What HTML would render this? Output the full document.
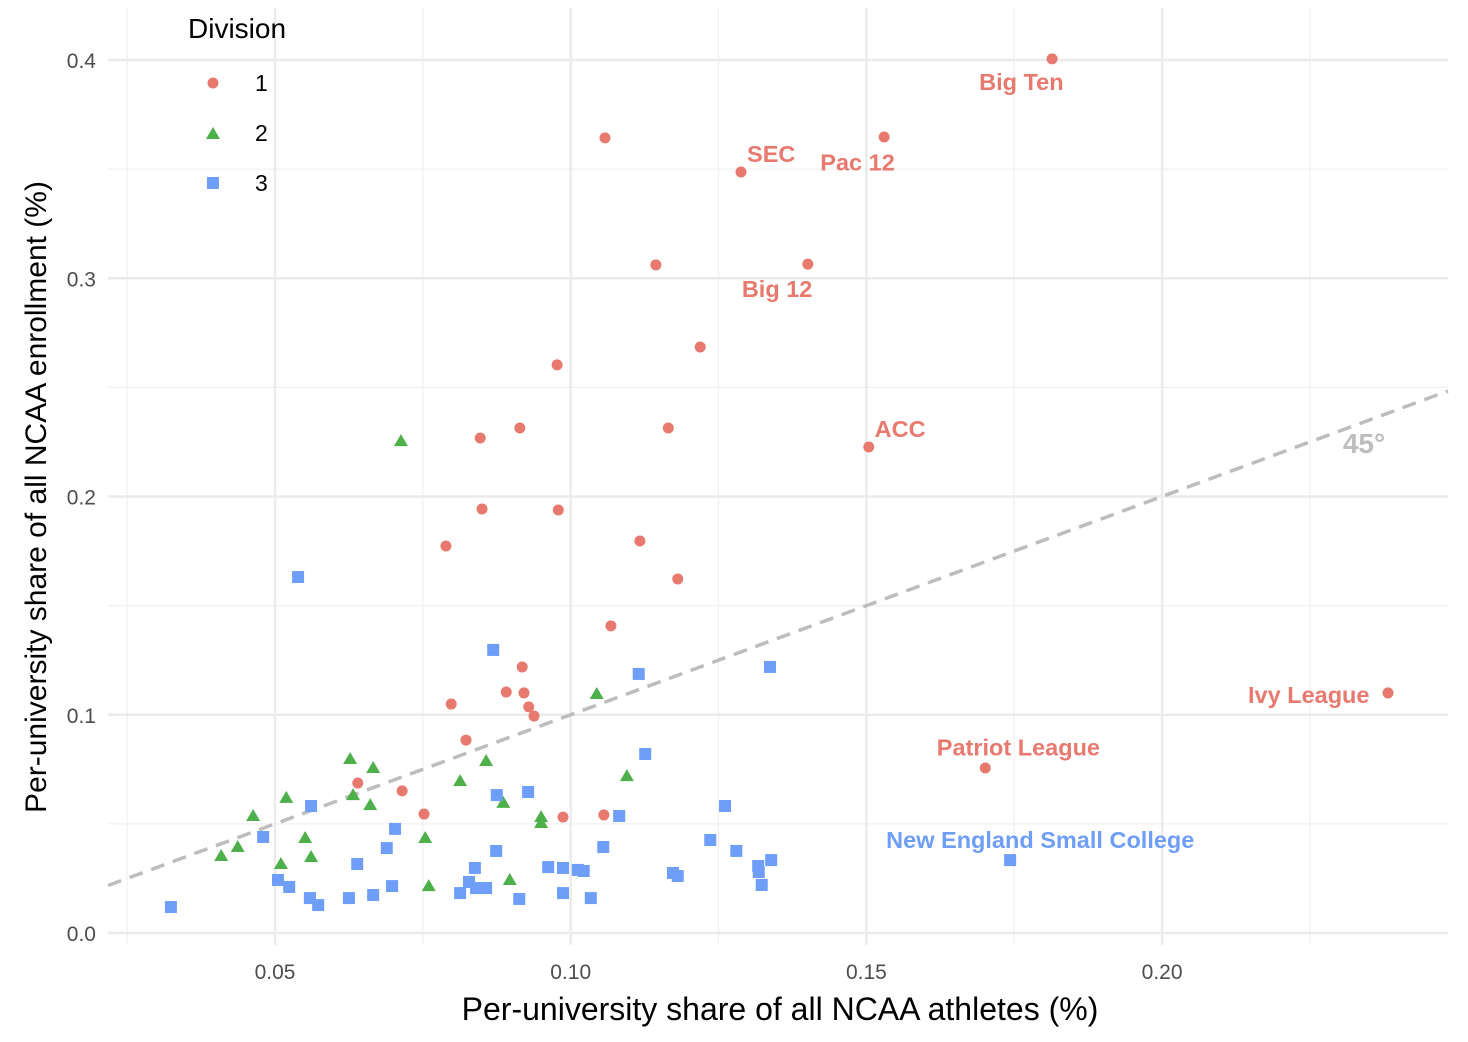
<!DOCTYPE html>
<html><head><meta charset="utf-8"><style>
html,body{margin:0;padding:0;background:#fff;}
svg{display:block;font-family:"Liberation Sans",Arial,sans-serif;}
</style></head><body>
<svg id="chart" width="1468" height="1042" viewBox="0 0 1468 1042">
<g id="grid"></g>
<g id="ticks"></g>
<line id="diag" stroke="#bdbdbd" stroke-width="3.5" stroke-dasharray="14,9"/>
<text x="1364" y="453" text-anchor="middle" font-size="28" font-weight="bold" fill="#bdbdbd">45°</text>
<g id="points"></g>
<g id="labels"></g>
<text x="780" y="1020" text-anchor="middle" font-size="32" fill="#000">Per-university share of all NCAA athletes (%)</text>
<text transform="translate(46,497) rotate(-90)" text-anchor="middle" font-size="30" fill="#000">Per-university share of all NCAA enrollment (%)</text>
<g>
<text x="188" y="38" font-size="28" fill="#000">Division</text>
<circle cx="213" cy="83" r="5.5" fill="#E8796F"/>
<text x="255" y="91" font-size="23" fill="#000">1</text>
<polygon points="213,127 220,139 206,139" fill="#4DB04A"/>
<text x="255" y="141" font-size="23" fill="#000">2</text>
<rect x="207" y="177" width="12" height="12" fill="#6E9EF8"/>
<text x="255" y="191" font-size="23" fill="#000">3</text>
</g>
</svg>
<script>
const xTicks=[0.05,0.10,0.15,0.20];
const xTickLabels=["0.05","0.10","0.15","0.20"];
const yTicks=[0.0,0.1,0.2,0.3,0.4];
const yTickLabels=["0.0","0.1","0.2","0.3","0.4"];
const xMinor=[0.025,0.075,0.125,0.175,0.225];
const yMinor=[0.05,0.15,0.25,0.35];
const d1x=[0.1814,0.1058,0.1530,0.1288,0.1144,0.1401,0.1219,0.0977,0.0914,0.0847,0.1165,0.1504,0.0850,0.0979,0.0789,0.1117,0.1181,0.1068,0.0918,0.0891,0.0921,0.0929,0.0938,0.0798,0.0823,0.0640,0.0715,0.0752,0.0987,0.1056,0.2382,0.1701];
const d1y=[0.4005,0.3643,0.3647,0.3487,0.3061,0.3065,0.2685,0.2603,0.2314,0.2268,0.2314,0.2227,0.1943,0.1938,0.1773,0.1796,0.1622,0.1407,0.1219,0.1104,0.1100,0.1036,0.0994,0.1049,0.0884,0.0687,0.0651,0.0545,0.0531,0.0541,0.1100,0.0756];
const d2x=[0.0713,0.1044,0.1095,0.0627,0.0666,0.0857,0.0813,0.0519,0.0463,0.0632,0.0661,0.0886,0.0950,0.0950,0.0551,0.0561,0.0754,0.0437,0.0409,0.0510,0.0760,0.0897];
const d2y=[0.2254,0.1095,0.0719,0.0797,0.0756,0.0788,0.0696,0.0619,0.0536,0.0632,0.0586,0.0596,0.0531,0.0504,0.0435,0.0348,0.0435,0.0394,0.0353,0.0316,0.0215,0.0243];
const d3x=[0.0539,0.0869,0.1115,0.1337,0.1126,0.0928,0.0875,0.0561,0.1261,0.1082,0.0703,0.0480,0.1236,0.0689,0.0874,0.1055,0.1280,0.0639,0.0962,0.0987,0.1012,0.1022,0.0838,0.1339,0.1317,0.1318,0.1173,0.1181,0.1743,0.0505,0.0524,0.0698,0.0828,0.0840,0.0857,0.0813,0.0987,0.1323,0.0559,0.0625,0.0666,0.0913,0.1034,0.0573,0.0324];
const d3y=[0.1631,0.1297,0.1187,0.1219,0.0820,0.0646,0.0632,0.0582,0.0582,0.0536,0.0477,0.0440,0.0426,0.0389,0.0376,0.0394,0.0376,0.0316,0.0302,0.0298,0.0289,0.0284,0.0298,0.0334,0.0307,0.0279,0.0275,0.0261,0.0334,0.0243,0.0211,0.0215,0.0234,0.0206,0.0206,0.0183,0.0183,0.0220,0.0160,0.0160,0.0174,0.0156,0.0160,0.0128,0.0119];
const labelNames=["Big Ten","SEC","Pac 12","Big 12","ACC","Ivy League","Patriot League","New England Small College"];
const labelX=[0.1762,0.1339,0.1485,0.1349,0.1557,0.2248,0.1757,0.1794];
const labelY=[0.3900,0.3570,0.3530,0.2950,0.2310,0.1090,0.0850,0.0425];
const labelDiv=[1,1,1,1,1,1,1,3];
const X0=108,X1=1448,Y0=8,Y1=945;
const sx=v=>275+(v-0.05)*5914;
const sy=v=>933-v*2182.5;
const NS="http://www.w3.org/2000/svg";
function mk(tag,attrs,parent){const e=document.createElementNS(NS,tag);for(const k in attrs)e.setAttribute(k,attrs[k]);parent.appendChild(e);return e;}
const grid=document.getElementById('grid'),ticks=document.getElementById('ticks');
xMinor.forEach(v=>{const l=mk('line',{x1:sx(v),x2:sx(v),y1:Y0,y2:Y1,stroke:'#f0f0f0','stroke-width':1.2},grid);

});
yMinor.forEach(v=>{const l=mk('line',{x1:X0,x2:X1,y1:sy(v),y2:sy(v),stroke:'#f0f0f0','stroke-width':1.2},grid);

});
xTicks.forEach((v,i)=>{const l=mk('line',{x1:sx(v),x2:sx(v),y1:Y0,y2:Y1,stroke:'#ebebeb','stroke-width':2.4},grid);


const t=mk('text',{x:sx(v),y:979,'text-anchor':'middle','font-size':21,fill:'#4d4d4d'},ticks);t.textContent=xTickLabels[i];

});
yTicks.forEach((v,i)=>{const l=mk('line',{x1:X0,x2:X1,y1:sy(v),y2:sy(v),stroke:'#ebebeb','stroke-width':2.4},grid);


const t=mk('text',{x:96,y:sy(v)+8,'text-anchor':'end','font-size':21,fill:'#4d4d4d'},ticks);t.textContent=yTickLabels[i];

});
const diag=document.getElementById('diag');
const vL=0.05+(X0-275)/5914,vR=0.05+(X1-275)/5914;
diag.setAttribute('x1',X0);diag.setAttribute('y1',sy(vL));diag.setAttribute('x2',X1);diag.setAttribute('y2',sy(vR));
const pts=document.getElementById('points');
const C1='#E8796F',C2='#4DB04A',C3='#6E9EF8';
d1x.forEach((v,i)=>{const c=mk('circle',{cx:sx(v),cy:sy(d1y[i]),r:5.5,fill:C1},pts);

});
d2x.forEach((v,i)=>{const x=sx(v),y=sy(d2y[i]);const p=mk('polygon',{points:`${x},${y-7} ${x+7},${y+5} ${x-7},${y+5}`,fill:C2},pts);

});
d3x.forEach((v,i)=>{const r=mk('rect',{x:sx(v)-6,y:sy(d3y[i])-6,width:12,height:12,fill:C3},pts);

});
const lab=document.getElementById('labels');
labelNames.forEach((n,i)=>{const t=mk('text',{x:sx(labelX[i]),y:sy(labelY[i])+8,'text-anchor':'middle','font-size':23.5,'font-weight':'bold',fill:labelDiv[i]===3?C3:C1},lab);t.textContent=n;

});
</script>
</body></html>
